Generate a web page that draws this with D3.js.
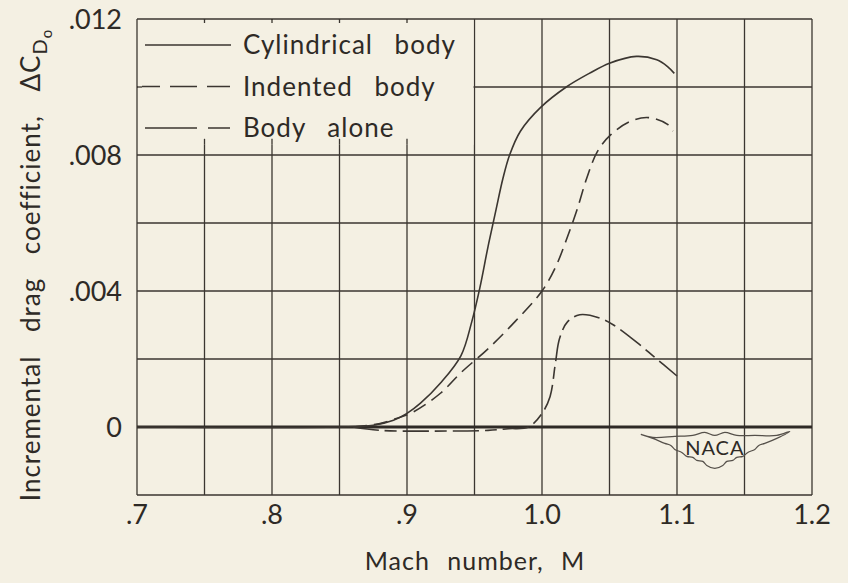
<!DOCTYPE html>
<html>
<head>
  <meta charset="utf-8">
  <script src="https://d3js.org/d3.v7.min.js"></script>
  <title>Incremental drag coefficient</title>
</head>
<style>
html,body {
  margin: 0;
  background: #f4f0e3;
}
svg {
  display: block;
  font-family: Lato, 'Open Sans', sans-serif;
}
.grid line {
  stroke: #3b3631;
  stroke-width: 1.3;
}
.curve {
  fill: none;
  stroke: #3b3631;
  stroke-width: 1.6;
}
text {
  fill: #2e2a26;
}
</style>
<body>
<script>
// values: [Mach number, delta CDo]
var cylindrical = [[0.70,0],[0.85,0],[0.875,0.00005],[0.89,0.0002],[0.90,0.0004],[0.91,0.0007],
  [0.925,0.0013],[0.94,0.0021],[0.948,0.0031],[0.954,0.0041],[0.96,0.0053],[0.966,0.0064],
  [0.971,0.0073],[0.976,0.0080],[0.984,0.0087],[0.999,0.0094],[1.018,0.0100],[1.035,0.0104],[1.05,0.0107],
  [1.07,0.0109],[1.085,0.0108],[1.093,0.0106],[1.098,0.0104]];
var indented = [[0.86,0],[0.88,0.0001],[0.89,0.00022],[0.905,0.00045],[0.925,0.001],[0.94,0.0016],
  [0.96,0.0023],[0.98,0.0031],[1.0,0.004],[1.01,0.0047],[1.018,0.0055],[1.026,0.0064],
  [1.033,0.0073],[1.041,0.0081],[1.051,0.0086],[1.066,0.009],[1.079,0.0091],[1.093,0.0089],
  [1.097,0.0087]];
var bodyAlone = [[0.86,0],[0.88,-0.0001],[0.92,-0.00012],[0.96,-0.0001],[0.975,-0.00005],
  [0.99,0],[1.0,0.0004],[1.006,0.0009],[1.010,0.0019],[1.013,0.0026],[1.019,0.0031],
  [1.028,0.0033],[1.043,0.0032],[1.053,0.003],[1.073,0.0024],[1.082,0.0021],[1.10,0.0015]];

var xTicks = [0.7,0.8,0.9,1.0,1.1,1.2];
var xTickLabels = [".7",".8",".9","1.0","1.1","1.2"];
var yTicks = [0,0.004,0.008,0.012];
var yTickLabels = ["0",".004",".008",".012"];
var legendNames = ["Cylindrical body","Indented body","Body alone"];

var width = 848, height = 583;

var x = d3.scaleLinear().domain([0.7,1.2]).range([137,812]);
var y = d3.scaleLinear().domain([-0.002,0.012]).range([495,19]);

var svg = d3.select("body").append("svg")
  .attr("width", width)
  .attr("height", height);

// grid every .05 in M and .002 in CD
var grid = svg.append("g").attr("class","grid");
grid.selectAll(".vx").data(d3.range(0.7,1.2001,0.05)).enter().append("line")
  .attr("x1", function(d){ return x(d); }).attr("x2", function(d){ return x(d); })
  .attr("y1", y(0.012)).attr("y2", y(-0.002));
grid.selectAll(".hy").data(d3.range(-0.002,0.01201,0.002)).enter().append("line")
  .attr("x1", x(0.7)).attr("x2", x(1.2))
  .attr("y1", function(d){ return y(d); }).attr("y2", function(d){ return y(d); });

// legend panel hides the grid in the upper left corner
var lg = svg.append("g");
var lgBottom = y(0.0083);
lg.append("rect")
  .attr("x", x(0.7)+1).attr("y", y(0.012)+1)
  .attr("width", x(0.95)-x(0.7)-2).attr("height", lgBottom-y(0.012)-1)
  .attr("fill", "#f4f0e3");
lg.selectAll(".stub").data([0.75,0.8,0.85,0.9]).enter().append("line")
  .attr("x1", function(d){ return x(d); }).attr("x2", function(d){ return x(d); })
  .attr("y1", lgBottom).attr("y2", lgBottom-6)
  .attr("stroke","#3b3631").attr("stroke-width",1.3);
lg.selectAll(".stubt").data([0.75,0.8,0.85,0.9]).enter().append("line")
  .attr("x1", function(d){ return x(d); }).attr("x2", function(d){ return x(d); })
  .attr("y1", y(0.012)).attr("y2", y(0.012)+4)
  .attr("stroke","#3b3631").attr("stroke-width",1.3);
lg.append("line")
  .attr("x1", x(0.7)).attr("x2", x(0.7)+5)
  .attr("y1", y(0.010)).attr("y2", y(0.010))
  .attr("stroke","#3b3631").attr("stroke-width",1.3);

var dashes = [null, "14,7", "26,6,12,6"];
lg.selectAll(".key").data(legendNames).enter().append("line")
  .attr("class","curve")
  .attr("x1", function(d,i){ return i == 1 ? 142 : 145; }).attr("x2", 231)
  .attr("y1", function(d,i){ return 45 + i*41.5; })
  .attr("y2", function(d,i){ return 45 + i*41.5; })
  .attr("stroke-dasharray", function(d,i){ return i == 1 ? "18,10,27,10,23" : (i == 2 ? "52,11,22" : null); });
lg.selectAll(".keytext").data(legendNames).enter().append("text")
  .attr("x", 243)
  .attr("y", function(d,i){ return 45 + i*41.5 + 9; })
  .attr("font-size", 26)
  .attr("letter-spacing", 1)
  .attr("word-spacing", 14)
  .text(function(d){ return d; });

// zero line drawn heavy
svg.append("line")
  .attr("x1", x(0.7)).attr("x2", x(1.2))
  .attr("y1", y(0)).attr("y2", y(0))
  .attr("stroke","#2e2a26").attr("stroke-width",3.2);

var line = d3.line()
  .x(function(d){ return x(d[0]); })
  .y(function(d){ return y(d[1]); })
  .curve(d3.curveCatmullRom.alpha(0.5));

svg.selectAll(".series").data([cylindrical, indented, bodyAlone]).enter().append("path")
  .attr("class","curve")
  .attr("d", line)
  .attr("stroke-dasharray", function(d,i){ return dashes[i]; });

// tick labels
svg.selectAll(".xl").data(xTicks).enter().append("text")
  .attr("x", function(d){ return x(d); })
  .attr("y", 524)
  .attr("text-anchor","middle")
  .attr("font-size", 27)
  .text(function(d,i){ return xTickLabels[i]; });
svg.selectAll(".yl").data(yTicks).enter().append("text")
  .attr("x", 122)
  .attr("y", function(d){ return y(d) + 10; })
  .attr("text-anchor","end")
  .attr("font-size", 27)
  .text(function(d,i){ return yTickLabels[i]; });

// axis titles
svg.append("text")
  .attr("x", 475).attr("y", 570)
  .attr("text-anchor","middle")
  .attr("font-size", 25)
  .attr("letter-spacing", 1)
  .attr("word-spacing", 10)
  .text("Mach number, M");

var yt = svg.append("text")
  .attr("transform","translate(40,265) rotate(-90)")
  .attr("text-anchor","middle")
  .attr("font-size", 26)
  .attr("letter-spacing", 1)
  .attr("word-spacing", 16);
yt.append("tspan").text("Incremental drag coefficient, \u0394C");
yt.append("tspan").attr("dy", 7).attr("font-size", 20).text("D");
yt.append("tspan").attr("dy", 5).attr("font-size", 15).text("o");

// NACA wings
var wing = [[-74,-13],[-62,-10],[-40,-11],[-22,-12],[-10,-15],[0,-12],[10,-15],[22,-12],[40,-12],
  [62,-12],[75,-16],[62,-9],[50,-4],[44,-2],[40,2],[33,5],[28,9],[22,10],[18,13],[12,14],[8,18],
  [0,21],[-8,18],[-12,14],[-18,13],[-22,10],[-28,9],[-33,5],[-40,2],[-44,-2],[-50,-4],[-62,-9],[-74,-13]];
var logo = svg.append("g").attr("transform","translate(" + x(1.128) + "," + y(-0.0006) + ")");
logo.append("path")
  .attr("d", d3.line().curve(d3.curveCatmullRom.alpha(0.5))(wing))
  .attr("fill","none").attr("stroke","#55504a").attr("stroke-width",1.2);
logo.append("text")
  .attr("y", 8).attr("text-anchor","middle")
  .attr("font-size", 20)
  .attr("letter-spacing", 1)
  .text("NACA");
</script>
</body>
</html>
